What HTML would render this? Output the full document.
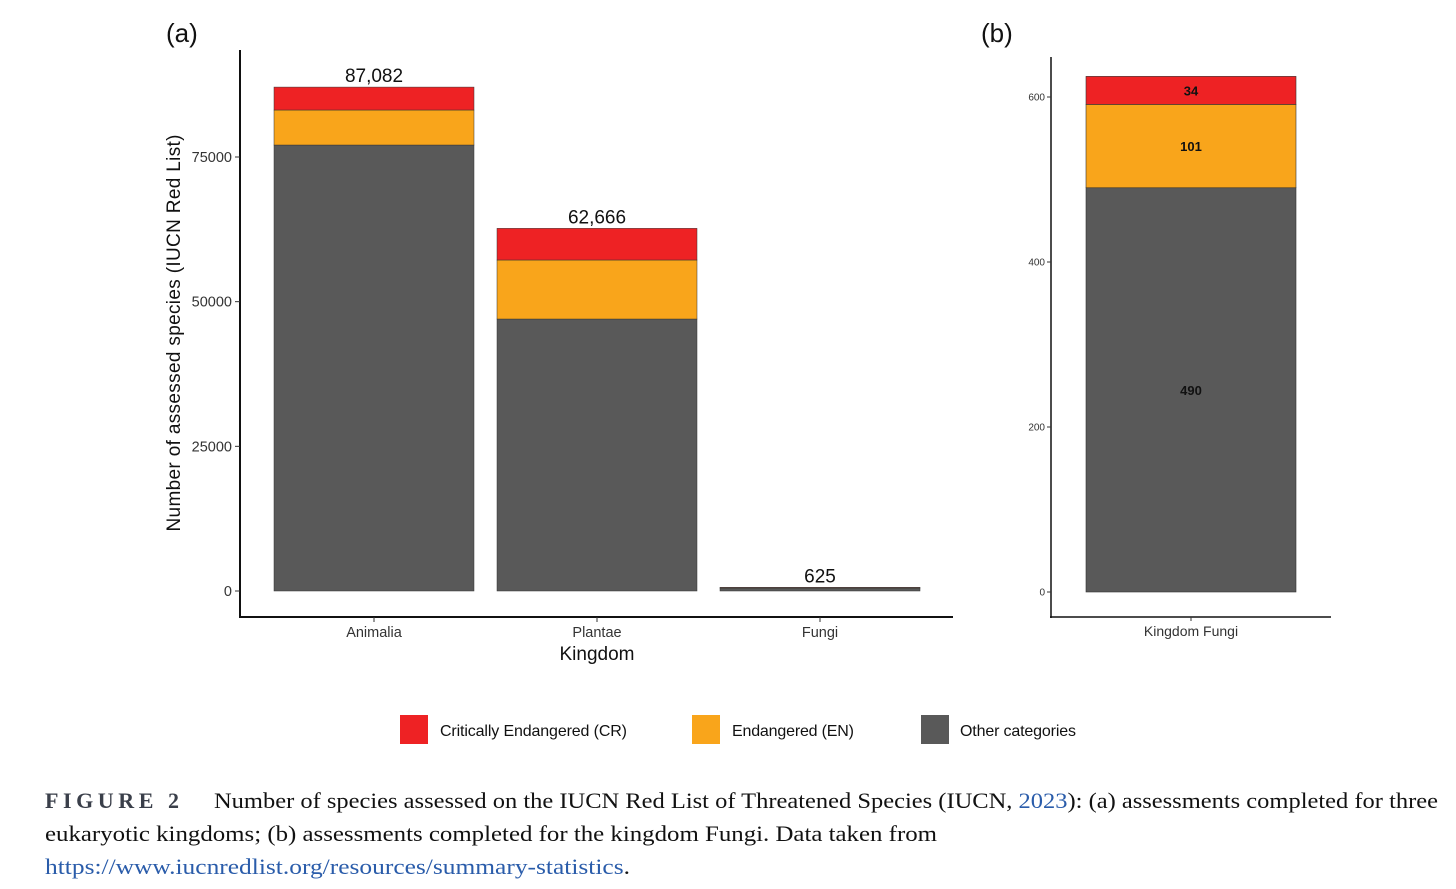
<!DOCTYPE html>
<html><head><meta charset="utf-8">
<style>
html,body{margin:0;padding:0;background:#fff;width:1456px;height:889px;overflow:hidden}
svg{display:block}
text{font-family:"Liberation Sans",sans-serif}
text.cap,text.fig{font-family:"Liberation Serif",serif}
.cap{font-size:22.5px;fill:#111}
</style></head><body>
<svg id="fig" width="1456" height="889" xmlns="http://www.w3.org/2000/svg">
<g id="pa"></g>
<g id="pb"></g>
<g>
 <g><rect x="400" y="715" width="28" height="29" fill="#ee2224"/><text x="440" y="736" font-size="16" fill="#111" textLength="187">Critically Endangered (CR)</text></g>
 <g><rect x="692" y="715" width="28" height="29" fill="#f9a51b"/><text x="732" y="736" font-size="16" fill="#111" textLength="122">Endangered (EN)</text></g>
 <g><rect x="921" y="715" width="28" height="29" fill="#595959"/><text x="960" y="736" font-size="16" fill="#111" textLength="116">Other categories</text></g>
</g>
<g>
 <text class="fig" x="45" y="808" font-size="22" font-weight="bold" fill="#3a3f4a" letter-spacing="4" textLength="138" lengthAdjust="spacing">FIGURE 2</text>
 <text class="cap" x="214" y="808" textLength="1224" lengthAdjust="spacingAndGlyphs">Number of species assessed on the IUCN Red List of Threatened Species (IUCN, <tspan fill="#2a5caa">2023</tspan>): (a) assessments completed for three</text>
 <text class="cap" x="45" y="841" textLength="892" lengthAdjust="spacingAndGlyphs">eukaryotic kingdoms; (b) assessments completed for the kingdom Fungi. Data taken from</text>
 <text class="cap" x="45" y="874" textLength="585" lengthAdjust="spacingAndGlyphs"><tspan fill="#2a5caa">https://www.iucnredlist.org/resources/summary-statistics</tspan>.</text>
</g>
</svg>
<script>
const kingdoms = ["Animalia","Plantae","Fungi"];
const otherVals = [77070, 47000, 490];
const enVals = [6050, 10200, 101];
const crVals = [3962, 5466, 34];
const totalLabels = ["87,082","62,666","625"];
const ticksA = [0,25000,50000,75000];
const fungiCats = ["Kingdom Fungi"];
const fungiOther = [490];
const fungiEN = [101];
const fungiCR = [34];
const ticksB = [0,200,400,600];

const NS="http://www.w3.org/2000/svg";
const COL={other:"#595959",en:"#f9a51b",cr:"#ee2224"};
function mk(p,tag,attrs,txt){const e=document.createElementNS(NS,tag);for(const k in attrs)e.setAttribute(k,attrs[k]);if(txt!==undefined)e.textContent=txt;p.appendChild(e);return e;}

// Panel A
const pa=document.getElementById('pa');
const yA=v=>591-v*(591-157)/75000;
const xA=i=>274+i*223;
const bwA=200;
mk(pa,'text',{x:166,y:42,'font-size':26,fill:'#111'},'(a)');
let ax=mk(pa,'line',{x1:240,y1:50,x2:240,y2:618,stroke:'#111','stroke-width':2});

ax=mk(pa,'line',{x1:239,y1:617,x2:953,y2:617,stroke:'#111','stroke-width':2});

ticksA.forEach(t=>{
 mk(pa,'line',{x1:235,y1:yA(t),x2:240,y2:yA(t),stroke:'#333'});
 const l=mk(pa,'text',{x:232,y:yA(t)+5,'font-size':14.5,fill:'#333','text-anchor':'end'},String(t));
 
});
let yt=mk(pa,'text',{x:0,y:0,'font-size':19,fill:'#111','text-anchor':'middle',textLength:397,transform:'translate(180,333) rotate(-90)'},'Number of assessed species (IUCN Red List)');

let xt=mk(pa,'text',{x:597,y:660,'font-size':19,fill:'#111','text-anchor':'middle'},'Kingdom');

kingdoms.forEach((k,i)=>{
 const x=xA(i);
 const segs=[[0,otherVals[i],COL.other,'other'],[otherVals[i],otherVals[i]+enVals[i],COL.en,'en'],[otherVals[i]+enVals[i],otherVals[i]+enVals[i]+crVals[i],COL.cr,'cr']];
 segs.forEach(s=>{
  const r=mk(pa,'rect',{x:x,y:yA(s[1]),width:bwA,height:Math.max(0,yA(s[0])-yA(s[1])),fill:s[2],stroke:'#333','stroke-width':0.5});
  
 });
 const tot=otherVals[i]+enVals[i]+crVals[i];
 const v=mk(pa,'text',{x:x+bwA/2,y:yA(tot)-5,'font-size':19,fill:'#111','text-anchor':'middle'},totalLabels[i]);
 
 mk(pa,'line',{x1:x+bwA/2,y1:617,x2:x+bwA/2,y2:622,stroke:'#333'});
 const xl=mk(pa,'text',{x:x+bwA/2,y:637,'font-size':14.5,fill:'#333','text-anchor':'middle'},k);
 
});

// Panel B
const pb=document.getElementById('pb');
const yB=v=>592-v*(592-97)/600;
mk(pb,'text',{x:981,y:42,'font-size':26,fill:'#111'},'(b)');
ax=mk(pb,'line',{x1:1051,y1:57,x2:1051,y2:618,stroke:'#111','stroke-width':1.5});

ax=mk(pb,'line',{x1:1050,y1:617,x2:1331,y2:617,stroke:'#111','stroke-width':1.5});

ticksB.forEach(t=>{
 mk(pb,'line',{x1:1047,y1:yB(t),x2:1051,y2:yB(t),stroke:'#333'});
 const l=mk(pb,'text',{x:1045,y:yB(t)+3.5,'font-size':10,fill:'#333','text-anchor':'end'},String(t));
 
});
fungiCats.forEach((c,i)=>{
 const x=1086,w=210;
 const o=fungiOther[i],e=fungiEN[i],r=fungiCR[i];
 const segs=[[0,o,COL.other,'other',o],[o,o+e,COL.en,'en',e],[o+e,o+e+r,COL.cr,'cr',r]];
 segs.forEach(s=>{
  const b=mk(pb,'rect',{x:x,y:yB(s[1]),width:w,height:yB(s[0])-yB(s[1]),fill:s[2],stroke:'#333','stroke-width':0.6});
  
  const t=mk(pb,'text',{x:x+w/2,y:(yB(s[0])+yB(s[1]))/2+5,'font-size':13,'font-weight':'bold',fill:'#111','text-anchor':'middle'},String(s[4]));
  
 });
 mk(pb,'line',{x1:x+w/2,y1:617,x2:x+w/2,y2:621,stroke:'#333'});
 const xl=mk(pb,'text',{x:x+w/2,y:636,'font-size':14,fill:'#333','text-anchor':'middle'},c);
 
});
</script>
</body></html>
